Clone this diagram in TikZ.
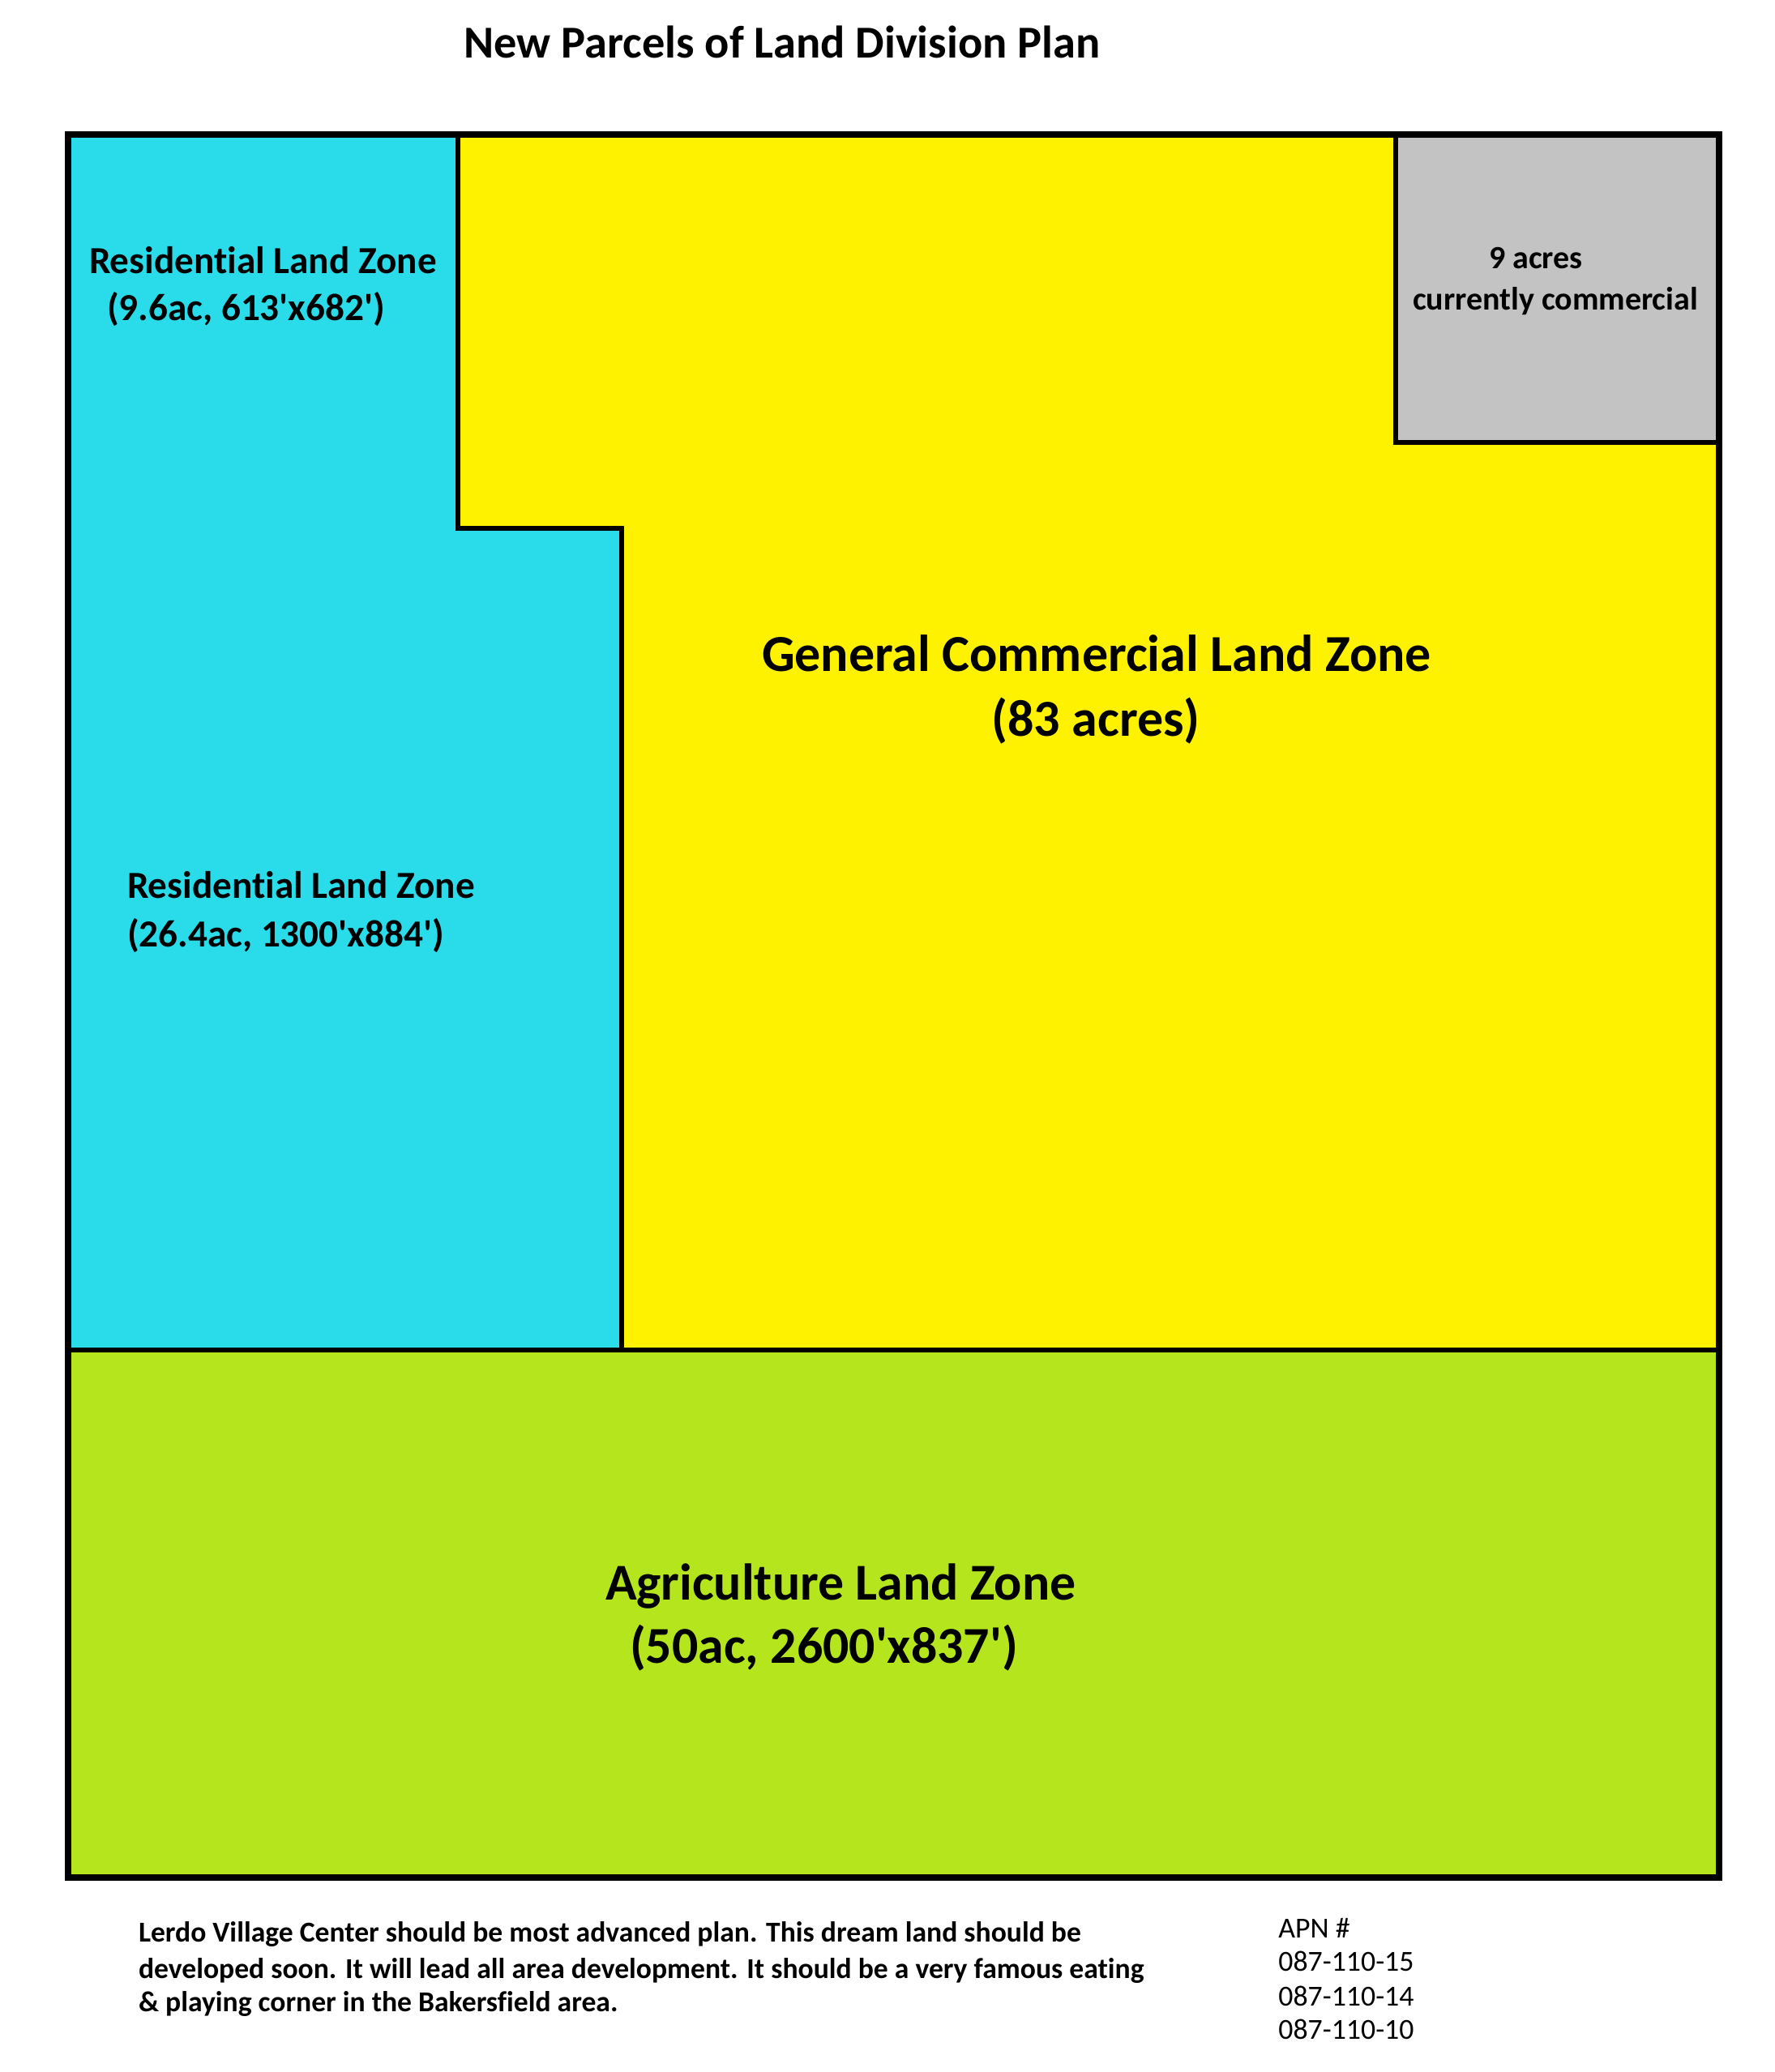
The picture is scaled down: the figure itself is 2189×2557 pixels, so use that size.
\documentclass[tikz,border=0pt]{standalone}
\usepackage{fontspec}
\setmainfont{Carlito}[Ligatures={NoCommon}]
\definecolor{rescyan}{RGB}{42,219,234}
\definecolor{comyellow}{RGB}{255,242,0}
\definecolor{agrilime}{RGB}{181,230,29}
\definecolor{curgray}{RGB}{195,195,195}
\tikzset{
  zoneline/.style={draw=black, line width=2.75pt, line join=miter},
  frameline/.style={draw=black, line width=4pt, line join=miter},
  lbl/.style={inner sep=0pt, outer sep=0pt, font=\bfseries},
}
\newcommand{\fs}[1]{\fontsize{#1}{#1}\selectfont}
\newcommand{\q}{\textquotesingle}
\begin{document}
\begin{tikzpicture}[x=0.5pt, y=-0.5pt]
\useasboundingbox (0,0) rectangle (2189,2557);
% zones
\fill[rescyan] (84,166) -- (565,166) -- (565,652) -- (767,652) -- (767,1666) -- (84,1666) -- cycle;
\fill[comyellow] (565,166) -- (2121,166) -- (2121,1666) -- (767,1666) -- (767,652) -- (565,652) -- cycle;
\fill[curgray] (1722,166) rectangle (2121,546);
\fill[agrilime] (84,1666) rectangle (2121,2317);
% dividing lines
\draw[zoneline] (565,166) -- (565,652) -- (767,652) -- (767,1666);
\draw[zoneline] (84,1666) -- (2121,1666);
\draw[zoneline] (1722,166) -- (1722,546) -- (2121,546);
\draw[frameline] (84,166) rectangle (2121,2317);
% title
\node[lbl, anchor=base] (title) at (965,72) {\fs{28.2}New Parcels of Land Division Plan};
% residential upper
\node[lbl, anchor=base west] (resa1) at (110,338) {\fs{23.6}Residential Land Zone};
\node[lbl, anchor=base west] (resa2) at (132,396) {\fs{23.6}(9.6ac, 613\q x682\q)};
% residential lower
\node[lbl, anchor=base west] (resb1) at (157,1108) {\fs{23.6}Residential Land Zone};
\node[lbl, anchor=base west] (resb2) at (157,1168) {\fs{23.6}(26.4ac, 1300\q x884\q)};
% gray
\node[lbl, anchor=base west] (gray1) at (1837,332) {\fs{20}9 acres};
\node[lbl, anchor=base west] (gray2) at (1743,383) {\fs{20}currently commercial};
% general commercial
\node[lbl, anchor=base] (gen1) at (1353,828) {\fs{32}General Commercial Land Zone};
\node[lbl, anchor=base] (gen2) at (1352,908) {\fs{32}(83 acres)};
% agriculture
\node[lbl, anchor=base west] (agr1) at (747,1974) {\fs{31.9}Agriculture Land Zone};
\node[lbl, anchor=base west] (agr2) at (777,2052) {\fs{31.9}(50ac, 2600\q x837\q)};
% bottom note
\node[lbl, anchor=base west] (note1) at (171,2396) {\fs{17.8}Lerdo Village Center should be most advanced plan. This dream land should be};
\node[lbl, anchor=base west] (note2) at (171,2441) {\fs{17.8}developed soon. It will lead all area development. It should be a very famous eating};
\node[lbl, anchor=base west] (note3) at (171,2482) {\fs{17.8}\& playing corner in the Bakersfield area.};
% APN
\node[inner sep=0pt, anchor=base west] (apn0) at (1577,2391) {\fs{17.9}APN \#};
\node[inner sep=0pt, anchor=base west] (apn1) at (1577,2432) {\fs{17.9}087-110-15};
\node[inner sep=0pt, anchor=base west] (apn2) at (1577,2475) {\fs{17.9}087-110-14};
\node[inner sep=0pt, anchor=base west] (apn3) at (1577,2516) {\fs{17.9}087-110-10};
\end{tikzpicture}
\end{document}
